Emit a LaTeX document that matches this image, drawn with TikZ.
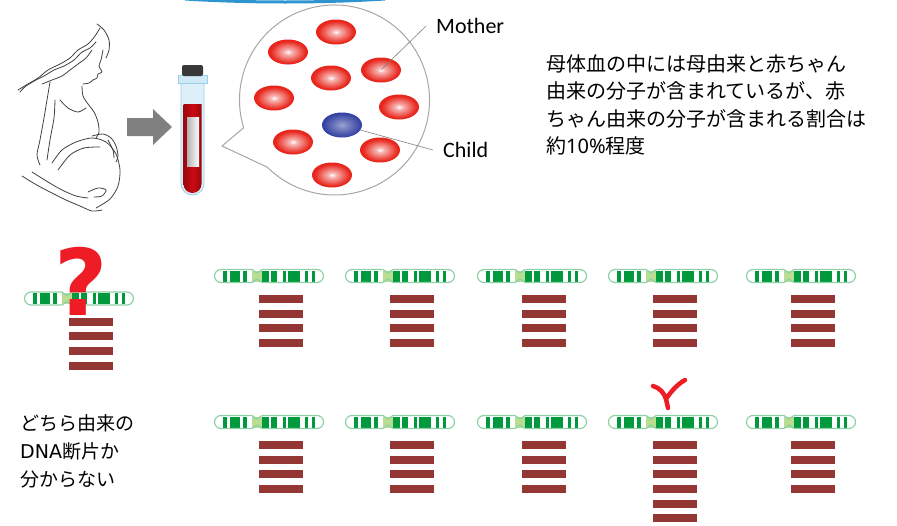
\documentclass[tikz,border=0pt]{standalone}
\usepackage{fontspec}
\usepackage{xcolor}
\usepackage{tikz}
\usetikzlibrary{shapes.geometric}
\newfontfamily\jpfont{Noto Sans CJK JP}
\newfontfamily\latfont{Carlito}
\newfontfamily\qfont{DejaVu Sans}
\newfontfamily\numfont{Noto Sans}
\definecolor{cellred}{HTML}{E8261C}
\definecolor{cellblue}{HTML}{22329A}
\definecolor{bandgreen}{HTML}{00993D}
\definecolor{rimgreen}{HTML}{8ED1A6}
\definecolor{cengreen}{HTML}{B9DE92}
\definecolor{fragred}{HTML}{943634}
\definecolor{arrowgray}{HTML}{808080}
\definecolor{skyblue}{HTML}{2E94CF}
\definecolor{glass}{HTML}{DDEFF9}
\definecolor{glassedge}{HTML}{9CCFE8}
\definecolor{blood}{HTML}{CC0A14}
\definecolor{markred}{HTML}{EE1C24}
\pgfdeclareradialshading{redcell}{\pgfpoint{0bp}{0bp}}{color(0bp)=(white); color(5bp)=(white!65!cellred); color(22bp)=(cellred); color(43bp)=(cellred); color(50bp)=(cellred!75!white)}
\pgfdeclareradialshading{bluecell}{\pgfpoint{0bp}{0bp}}{color(0bp)=(white!55!cellblue); color(12bp)=(cellblue!70!white); color(28bp)=(cellblue); color(50bp)=(cellblue!90!black)}

\begin{document}
\begin{tikzpicture}[
  x=1pt, y=-1pt,
  cell/.style={ellipse, minimum width=40, minimum height=25, inner sep=0, shading=redcell},
  childcell/.style={cell, shading=bluecell},
  tag/.style={font=\latfont\fontsize{22}{26}\selectfont, inner sep=0},
  jtext/.style={font=\jpfont\fontsize{20}{27.5}\selectfont, align=left, inner sep=0},
  leader/.style={draw=black!50, line width=0.6},
  bubble/.style={draw=black!35, line width=1, fill=white},
  sketch/.style={draw=black!75, line width=0.8, line cap=round, line join=round},
  pics/strand/.style={code={
    \foreach \a/\b in {8/12,15/25,28/32,47/54,56/62,68/71,73/85,90/93,97/100}
      \fill[bandgreen] (\a,-5.5) rectangle (\b,5.5);
    \fill[cengreen] (37,-5.5) rectangle (47,5.5);
    \draw[rimgreen, line width=1.2] (6,-6.5) -- (37,-6.5) -- (42,-3) -- (47,-6.5)
      -- (102,-6.5) arc (-90:90:6.5) -- (47,6.5) -- (42,3) -- (37,6.5)
      -- (6,6.5) arc (90:270:6.5) -- cycle;
    \foreach \k in {1,...,#1}
      \fill[fragred] (44,{4.6+14.6*\k}) rectangle ++(44,8);
  }}
]
\useasboundingbox (0,0) rectangle (897,525);

% strip at the top edge
\draw[skyblue, line width=3] (185,-1) .. controls (250,3) and (320,3) .. (385,-1);

% mother
\draw[sketch] plot[smooth] coordinates {(97,24) (104,30) (109,40) (109,50) (106,58)};
\draw[sketch] plot[smooth] coordinates {(103,50) (101,60) (99,66) (102,72) (98,74) (97,78) (93,80) (89,83) (83,84)};
\draw[sketch] plot[smooth] coordinates {(100,28) (95,36) (88,44) (78,50) (70,58) (60,64) (48,70) (38,78) (28,84) (18,90)};
\draw[sketch] plot[smooth] coordinates {(96,42) (90,48) (82,52) (74,60) (64,66) (54,70) (44,76) (36,80) (26,86) (20,92)};
\draw[sketch] plot[smooth] coordinates {(92,50) (86,58) (78,64) (70,70) (62,76) (52,80) (42,84)};
\draw[sketch] plot[smooth] coordinates {(50,82) (47,100) (44,118) (40,140) (37,155) (40,165)};
\draw[sketch] plot[smooth] coordinates {(60,100) (68,108) (78,112) (86,108)};
\draw[sketch] plot[smooth] coordinates {(82,86) (83,96) (88,104) (94,112) (98,122) (99,132) (96,138)};
\draw[sketch] plot[smooth] coordinates {(55,100) (54,118) (50,140) (47,160)};
\draw[sketch] plot[smooth] coordinates {(52,163) (62,150) (76,142) (92,138) (106,142) (116,154) (120,170) (118,186) (110,199) (96,208)};
\draw[sketch] plot[smooth] coordinates {(58,170) (70,155) (84,148) (100,147)};
\draw[sketch] plot[smooth] coordinates {(92,136) (103,134) (111,138) (116,146) (118,156) (116,162)};
\draw[sketch] plot[smooth] coordinates {(108,140) (113,150) (114,158)};
\draw[sketch] plot[smooth] coordinates {(22,176) (35,184) (50,192) (66,200) (80,206) (92,211) (102,210)};
\draw[sketch] plot[smooth] coordinates {(32,172) (48,182) (62,190) (76,196) (88,198)};
\draw[sketch] plot[smooth] coordinates {(88,192) (98,188) (106,190) (102,196) (94,197)};

% arrow to the sample
\fill[arrowgray] (127,118) -- (153,118) -- (153,109) -- (172,127) -- (153,145)
  -- (153,136) -- (127,136) -- cycle;

% blood tube
\filldraw[fill=glass, draw=glassedge, line width=0.8] (181,80) -- (181,183.5) arc (180:0:11.5) -- (204,80) -- cycle;
\shade[left color=blood!75!black, right color=blood!75!black, middle color=blood]
  (183.5,104) -- (183.5,184) arc (180:0:9) -- (201.5,104) -- cycle;
\shade[left color=black!30, right color=white] (187,117) rectangle (199,166);
\filldraw[fill=glass!80!glassedge, draw=glassedge, line width=0.6] (178,75) rectangle (207,83);
\fill[black!78, rounded corners=2] (182,65) rectangle (203,76);

% drop of blood, enlarged
\draw[bubble] (222,146) -- ([shift={(334.5,100)}]163:95)
  arc[start angle=163, end angle=495, radius=95] -- cycle;

\node[cell] (c1) at (336,32) {};
\node[cell] (c2) at (288,52) {};
\node[cell] (c3) at (381,70) {};
\node[cell] (c4) at (331,78) {};
\node[cell] (c5) at (274,98) {};
\node[cell] (c6) at (399,107) {};
\node[childcell] (c7) at (342,125) {};
\node[cell] (c8) at (293,142) {};
\node[cell] (c9) at (380,150) {};
\node[cell] (c10) at (332,175) {};

\node[tag, anchor=west, inner xsep=10pt] (mother) at (426,26) {Mother};
\node[tag, anchor=west, inner xsep=10pt] (child) at (433,150) {Child};
\draw[leader] (c3.center) -- (mother.west);
\draw[leader] (c7) -- (child.west);

\node[jtext, anchor=north west] (note) at (546,54)
  {母体血の中には母由来と赤ちゃん\\由来の分子が含まれているが、赤\\ちゃん由来の分子が含まれる割合は\\約{\numfont 10\%}程度};

% fragments
\pic at (25,298.5) {strand=4};
\node[font=\qfont\bfseries\fontsize{92}{92}\selectfont, text=markred, inner sep=0, anchor=base] (qmark) at (81,315) {?};

\foreach \xs in {215,346,478,609,747}
  \pic at (\xs,276) {strand=4};
\foreach \xs in {215,346,478,747}
  \pic at (\xs,422) {strand=4};
\pic at (609,422) {strand=6};

\draw[markred, line width=4.5, line cap=round, line join=round]
  (653,386) .. controls (660,388) and (664,393) .. (666,399) -- (668,408)
  (666,399) .. controls (672,390) and (678,384) .. (685,380);

\node[jtext, font=\jpfont\fontsize{19}{28}\selectfont, anchor=north west] (unknown) at (20,414)
  {どちら由来の\\{\qfont DNA}断片か\\分からない};
\end{tikzpicture}
\end{document}
